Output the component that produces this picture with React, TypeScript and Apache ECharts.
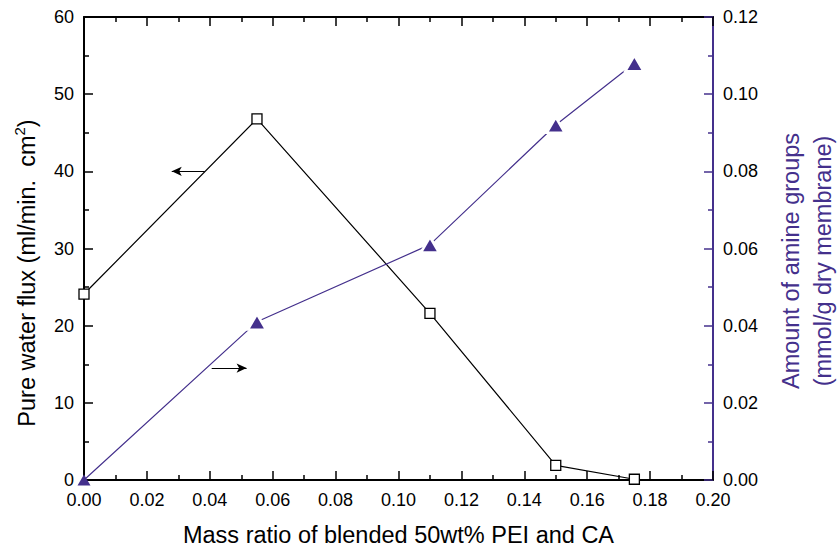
import React, { useEffect, useRef } from "react";
import * as echarts from "echarts";

const massRatio = [0, 0.055, 0.11, 0.15, 0.175];
const waterFlux = [24.1, 46.8, 21.6, 1.9, 0.1];
const amineGroups = [0, 0.041, 0.061, 0.092, 0.108];
const xTitle = "Mass ratio of blended 50wt% PEI and CA";
const leftTitleMain = "Pure water flux (ml/min.  cm";
const leftTitleSup = "2";
const rightTitle = "Amount of amine groups\n(mmol/g dry membrane)";
// annotation arrows (data coordinates)
const fluxArrow = [[0.0384, 40], [0.0279, 40]];
const amineArrow = [[0.0406, 0.029], [0.0517, 0.029]];

const PURPLE = "#44308C";
const FONT = "Liberation Sans, Arial, Helvetica, sans-serif";

export default function App() {
  const ref = useRef<HTMLDivElement>(null);
  useEffect(() => {
    if (!ref.current) return;
    const chart = echarts.init(ref.current, undefined, { renderer: "svg" });
    const tickCommon = { show: true, inside: true, length: 9 };
    const minorCommon = { show: true, splitNumber: 2, length: 5 };
    const labelStyle = { fontSize: 18, color: "#000", fontFamily: FONT };
    const line = (color: string) => ({
      show: true,
      onZero: false,
      lineStyle: { color, width: 2 },
    });
    chart.setOption({
      animation: false,
      backgroundColor: "#fff",
      textStyle: { fontFamily: FONT, fontSize: 18 },
      grid: { left: 84, right: 124, top: 17, bottom: 71, containLabel: false },
      graphic: [
        {
          type: "text",
          x: 398.5,
          y: 535,
          style: {
            text: xTitle,
            fontSize: 23.5,
            fontFamily: FONT,
            fill: "#000",
            align: "center",
            verticalAlign: "middle",
          },
        },
        {
          type: "text",
          x: 27,
          y: 273,
          rotation: Math.PI / 2,
          style: {
            text: `{a|${leftTitleMain}}{sup|${leftTitleSup}}{a|)}`,
            fontFamily: FONT,
            fill: "#000",
            align: "center",
            verticalAlign: "middle",
            rich: {
              a: { fontSize: 23.5, fontFamily: FONT, fill: "#000", lineHeight: 30 },
              sup: {
                fontSize: 15,
                fontFamily: FONT,
                fill: "#000",
                lineHeight: 15,
                verticalAlign: "top",
              },
            },
          },
        },
        {
          type: "text",
          x: 807,
          y: 261,
          rotation: Math.PI / 2,
          style: {
            text: rightTitle,
            fontSize: 23.5,
            lineHeight: 32,
            fontFamily: FONT,
            fill: PURPLE,
            align: "center",
            verticalAlign: "middle",
          },
        },
      ],
      xAxis: [
        {
          type: "value",
          min: 0,
          max: 0.2,
          interval: 0.02,
          position: "bottom",
          axisLine: line("#000"),
          axisTick: { ...tickCommon, lineStyle: { color: "#000", width: 1.5 } },
          minorTick: { ...minorCommon, lineStyle: { color: "#000", width: 1.5 } },
          axisLabel: {
            ...labelStyle,
            margin: 11,
            formatter: (v: number) => v.toFixed(2),
          },
          splitLine: { show: false },
        },
        {
          type: "value",
          min: 0,
          max: 0.2,
          interval: 0.02,
          position: "top",
          axisLine: line("#000"),
          axisTick: { ...tickCommon, lineStyle: { color: "#000", width: 1.5 } },
          minorTick: { ...minorCommon, lineStyle: { color: "#000", width: 1.5 } },
          axisLabel: { show: false },
          splitLine: { show: false },
        },
      ],
      yAxis: [
        {
          type: "value",
          min: 0,
          max: 60,
          interval: 10,
          position: "left",
          axisLine: line("#000"),
          axisTick: { ...tickCommon, lineStyle: { color: "#000", width: 1.5 } },
          minorTick: { ...minorCommon, lineStyle: { color: "#000", width: 1.5 } },
          axisLabel: { ...labelStyle, margin: 10 },
          splitLine: { show: false },
        },
        {
          type: "value",
          min: 0,
          max: 0.12,
          interval: 0.02,
          position: "right",
          axisLine: line(PURPLE),
          axisTick: { ...tickCommon, lineStyle: { color: PURPLE, width: 1.5 } },
          minorTick: { ...minorCommon, lineStyle: { color: PURPLE, width: 1.5 } },
          axisLabel: {
            ...labelStyle,
            margin: 10,
            formatter: (v: number) => v.toFixed(2),
          },
          splitLine: { show: false },
        },
      ],
      series: [
        {
          type: "line",
          xAxisIndex: 0,
          yAxisIndex: 0,
          data: massRatio.map((x, i) => [x, waterFlux[i]]),
          symbol: "rect",
          symbolSize: 10,
          lineStyle: { color: "#000", width: 1.2 },
          itemStyle: { color: "#fff", borderColor: "#000", borderWidth: 1.3 },
          z: 3,
          markLine: {
            silent: true,
            symbol: ["none", "arrow"],
            symbolSize: [7, 10],
            label: { show: false },
            lineStyle: { color: "#000", width: 1.2, type: "solid" },
            data: [[{ coord: fluxArrow[0] }, { coord: fluxArrow[1] }]],
          },
        },
        {
          type: "line",
          xAxisIndex: 0,
          yAxisIndex: 1,
          data: massRatio.map((x, i) =>
            i === 0
              ? { value: [x, amineGroups[i]], symbolSize: [13, 11] }
              : {
                  value: [x, amineGroups[i]],
                  symbolSize: [18, 15.5],
                  itemStyle: { borderColor: "#fff", borderWidth: 2.5 },
                }
          ),
          symbol: "triangle",
          lineStyle: { color: PURPLE, width: 1.2 },
          itemStyle: { color: PURPLE },
          z: 4,
          markLine: {
            silent: true,
            symbol: ["none", "arrow"],
            symbolSize: [7, 10],
            label: { show: false },
            lineStyle: { color: "#000", width: 1.2, type: "solid" },
            data: [[{ coord: amineArrow[0] }, { coord: amineArrow[1] }]],
          },
        },
      ],
    });
    return () => chart.dispose();
  }, []);
  return (
    <div
      ref={ref}
      style={{ position: "fixed", left: 0, top: 0, width: 837, height: 551 }}
    />
  );
}
